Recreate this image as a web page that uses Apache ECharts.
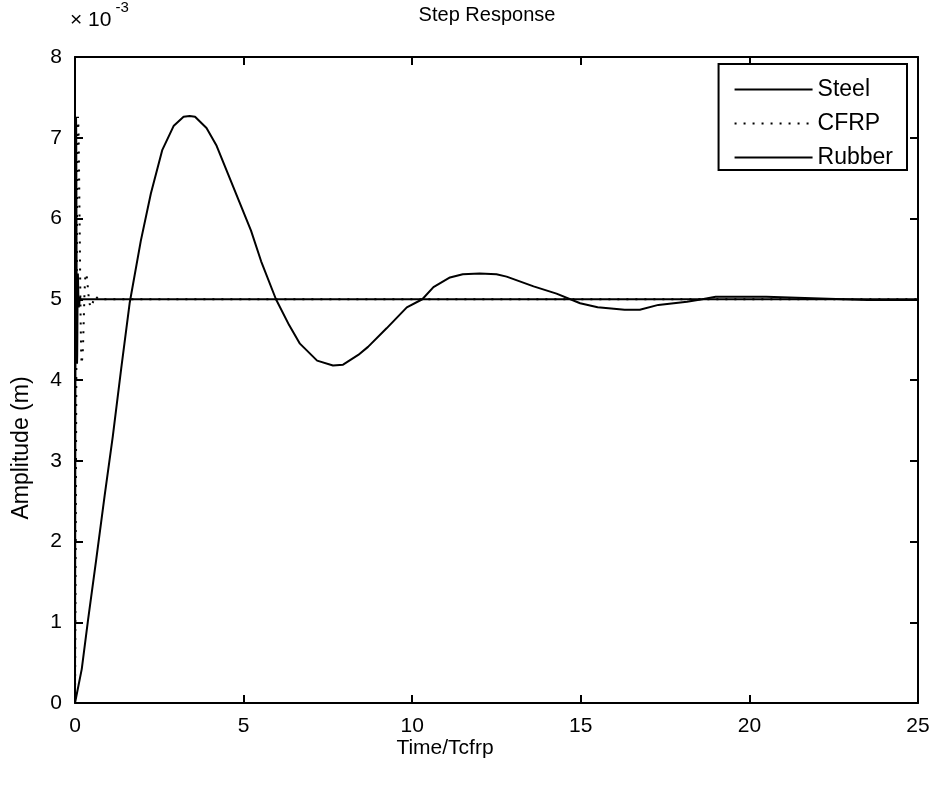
<!DOCTYPE html>
<html>
<head>
<meta charset="utf-8">
<script src="https://cdn.jsdelivr.net/npm/echarts@6/dist/echarts.min.js"></script>
<style>
html,body{margin:0;padding:0;background:#fff;}
#chart{width:940px;height:789px;}
</style>
</head>
<body>
<div id="chart"></div>
<script>
// ---- data (amplitude in units of 1e-3 m) ----
const xTicks = [0, 5, 10, 15, 20, 25];
const yTicks = [0, 1, 2, 3, 4, 5, 6, 7, 8];

const steelT = [0, 0.005, 0.01, 0.015, 0.02, 0.025, 0.03, 0.035, 0.04, 0.045, 0.05, 0.055, 0.06, 0.065, 0.07, 0.075, 0.08, 0.085, 0.09, 0.1, 0.11, 0.12, 0.13, 0.14, 0.15, 0.17, 25];
const steelV = [0, 1.6, 3.3, 4.9, 6.2, 7.0, 7.26, 7.1, 6.5, 5.7, 4.9, 4.4, 4.2, 4.3, 4.6, 5.0, 5.25, 5.32, 5.25, 5.02, 4.9, 4.88, 4.95, 5.03, 5.04, 5.0, 5.0];

const cfrpT = [0, 0.015, 0.03, 0.045, 0.06, 0.075, 0.09, 0.105, 0.12, 0.135, 0.15, 0.165, 0.18, 0.195, 0.21, 0.225, 0.24, 0.26, 0.28, 0.3, 0.33, 0.36, 0.39, 0.42, 0.46, 0.5, 0.55, 0.6, 0.65, 0.7, 25];
const cfrpV = [0, 1.4, 3.0, 4.7, 6.1, 7.0, 7.26, 7.1, 6.6, 6.0, 5.4, 4.8, 4.4, 4.2, 4.18, 4.3, 4.45, 4.75, 5.05, 5.25, 5.32, 5.25, 5.1, 4.97, 4.9, 4.92, 4.98, 5.04, 5.02, 5.0, 5.0];

const rubberT = [0, 0.2, 0.39, 0.63, 0.88, 1.12, 1.37, 1.62, 1.95, 2.25, 2.59, 2.93, 3.22, 3.4, 3.56, 3.9, 4.2, 4.54, 4.88, 5.22, 5.52, 5.96, 6.35, 6.67, 7.18, 7.65, 7.95, 8.4, 8.69, 9.24, 9.84, 10.3, 10.63, 11.12, 11.5, 12.0, 12.5, 12.8, 13.6, 14.28, 14.98, 15.5, 16.3, 16.75, 17.3, 18.15, 18.6, 19.0, 20.5, 22.1, 23.5, 25];
const rubberV = [0, 0.42, 1.04, 1.78, 2.57, 3.3, 4.14, 4.95, 5.72, 6.31, 6.85, 7.15, 7.26, 7.27, 7.26, 7.12, 6.9, 6.55, 6.2, 5.85, 5.47, 5.0, 4.68, 4.45, 4.24, 4.18, 4.19, 4.31, 4.41, 4.64, 4.9, 5.0, 5.15, 5.27, 5.31, 5.32, 5.31, 5.28, 5.16, 5.07, 4.95, 4.9, 4.87, 4.87, 4.93, 4.97, 5.0, 5.03, 5.03, 5.01, 4.99, 4.99];

const seriesNames = ['Steel', 'CFRP', 'Rubber'];
const titleText = 'Step Response';
const xName = 'Time/Tcfrp';
const yName = 'Amplitude (m)';

// ---- build ----
const zip = (a, b) => a.map((t, i) => [t, b[i]]);
const FONT = 'Liberation Sans, Arial, sans-serif';
const FS = 21;
const black = '#000';

const axisCommon = {
  type: 'value',
  axisLine: { show: true, onZero: false, lineStyle: { color: black, width: 2 } },
  axisTick: { show: true, inside: true, length: 8, lineStyle: { color: black, width: 2 } },
  splitLine: { show: false },
};

const chart = echarts.init(document.getElementById('chart'), null, { renderer: 'canvas' });
chart.setOption({
  animation: false,
  backgroundColor: '#fff',
  title: {
    text: titleText,
    left: 482, top: 0, textAlign: 'center',
    textStyle: { fontFamily: FONT, fontSize: 20, fontWeight: 'normal', color: black }
  },
  grid: { left: 75, right: 22, top: 57, bottom: 86, containLabel: false },
  xAxis: [
    Object.assign({}, axisCommon, {
      min: xTicks[0], max: xTicks[xTicks.length - 1], interval: 5, position: 'bottom',
      axisLabel: { show: true, margin: 13, fontFamily: FONT, fontSize: FS, color: black }
    }),
    Object.assign({}, axisCommon, {
      min: xTicks[0], max: xTicks[xTicks.length - 1], interval: 5, position: 'top',
      axisLabel: { show: false }
    })
  ],
  yAxis: [
    Object.assign({}, axisCommon, {
      min: yTicks[0], max: yTicks[yTicks.length - 1], interval: 1, position: 'left',
      axisLabel: { show: true, margin: 13, fontFamily: FONT, fontSize: FS, color: black }
    }),
    Object.assign({}, axisCommon, {
      min: yTicks[0], max: yTicks[yTicks.length - 1], interval: 1, position: 'right',
      axisLabel: { show: false }
    })
  ],
  legend: {
    orient: 'vertical',
    right: 33, top: 64,
    data: seriesNames,
    backgroundColor: '#fff',
    borderColor: black, borderWidth: 2, borderRadius: 0,
    padding: [14, 14, 1, 15],
    itemWidth: 78, itemHeight: 14, itemGap: 11,
    itemStyle: { opacity: 0 },
    textStyle: { fontFamily: FONT, fontSize: 23, color: black, lineHeight: 22 },
    selectedMode: false
  },
  graphic: [
    {
      type: 'text', left: 70, top: 0,
      style: {
        text: '{a|× 10}{b| -3}',
        rich: {
          a: { fontFamily: FONT, fontSize: FS, fill: black, padding: [10, 0, 0, 0] },
          b: { fontFamily: FONT, fontSize: 15, fill: black, verticalAlign: 'top' }
        }
      }
    },
    {
      type: 'text', x: 445, y: 748,
      style: { text: xName, fontFamily: FONT, fontSize: 21, fill: black, align: 'center', verticalAlign: 'middle' }
    },
    {
      type: 'text', x: 22, y: 448, rotation: Math.PI / 2,
      style: { text: yName, fontFamily: FONT, fontSize: 23, fill: black, align: 'center', verticalAlign: 'middle' }
    }
  ],
  series: [
    {
      name: seriesNames[0], type: 'line', data: zip(steelT, steelV),
      symbol: 'none', showSymbol: false, z: 3,
      lineStyle: { color: black, width: 2, type: 'solid' }, itemStyle: { color: black }
    },
    {
      name: seriesNames[1], type: 'line', data: zip(cfrpT, cfrpV),
      symbol: 'none', showSymbol: false, z: 2,
      lineStyle: { color: black, width: 2, type: [2, 7] }, itemStyle: { color: black }
    },
    {
      name: seriesNames[2], type: 'line', data: zip(rubberT, rubberV),
      symbol: 'none', showSymbol: false, z: 4,
      lineStyle: { color: black, width: 2, type: 'solid' }, itemStyle: { color: black }
    }
  ]
});
</script>
</body>
</html>
